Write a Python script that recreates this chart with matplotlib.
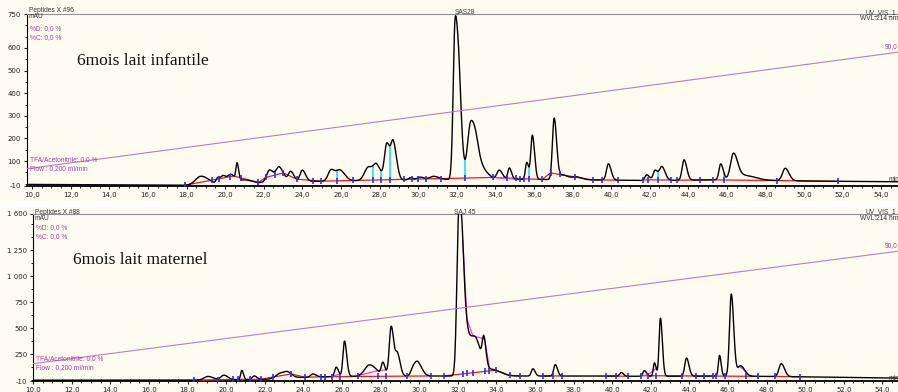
import numpy as np
import matplotlib
matplotlib.use("Agg")
import matplotlib.pyplot as plt
from matplotlib.ticker import FixedLocator, MultipleLocator, FuncFormatter
from matplotlib.patches import Rectangle

W, H = 898, 392

# ---------- top run : Peptides X #96, 6mois lait infantile ----------
top_base_t = [9.7, 18.0, 21.0, 24.0, 28.0, 31.0, 34.0, 38.0, 42.0, 46.0, 50.0, 56.0]
top_base_v = [-3, -7, 2, 10, 15, 18, 20, 18, 14, 18, 12, 8]
top_peak_t = [18.75, 19.62, 19.9, 20.3, 20.62, 21.0, 22.3, 22.8, 23.4, 24.0,
              25.49, 25.96, 27.43, 27.86, 28.38, 28.72, 29.6, 30.1, 30.8,
              31.92, 32.14, 32.73, 33.05, 33.45, 34.2, 34.73, 35.63, 35.92,
              37.05, 37.5, 38.2, 39.86, 41.85, 42.28, 42.63, 43.78, 45.68,
              46.34, 46.9, 49.02]
top_peak_h = [38, 25, 35, 40, 75, 15, 55, 65, 45, 50,
              50, 45, 60, 55, 160, 155, 10, 12, 15,
              690, 300, 250, 80, 30, 40, 50, 75, 195,
              270, 20, 12, 72, 25, 45, 60, 90, 70,
              110, 20, 55]
top_peak_w = [0.28, 0.08, 0.12, 0.15, 0.06, 0.25, 0.15, 0.16, 0.12, 0.12,
              0.15, 0.18, 0.2, 0.15, 0.12, 0.12, 0.1, 0.15, 0.2,
              0.1, 0.1, 0.17, 0.15, 0.18, 0.12, 0.08, 0.07, 0.08,
              0.09, 0.2, 0.2, 0.1, 0.1, 0.1, 0.12, 0.1, 0.09,
              0.15, 0.4, 0.14]
top_red = [[17.93, 20.45, 21.72, 22.1, 23.02, 23.71, 24.96, 33.9, 36.43, 36.86, 39.04, 40.38],
           [41.64, 43.09], [43.44, 44.61, 45.27, 51.78]]
top_pink = [[33.9, 35.28]]
top_marks = [17.93, 19.34, 19.66, 20.26, 20.81, 21.72, 22.1, 22.59, 23.02, 23.71,
             24.58, 24.96, 25.79, 26.65, 27.65, 28.08, 28.55, 29.27, 29.67, 29.98,
             30.41, 31.17, 32.43, 33.9, 34.59, 35.07, 35.28, 35.5, 35.76, 36.43,
             36.86, 37.35, 38.12, 39.04, 39.52, 40.38, 41.64, 41.93, 42.45, 43.09,
             43.44, 44.61, 45.27, 45.85, 48.62, 51.78]
top_drops = [19.66, 22.59, 25.79, 27.65, 28.08, 28.55, 32.43, 35.76, 42.45, 45.85]

# ---------- bottom run : Peptides X #88, 6mois lait maternel ----------
bot_base_t = [10.0, 18.0, 22.0, 24.0, 26.0, 30.0, 34.0, 38.0, 42.0, 46.0, 50.0, 56.0]
bot_base_v = [-2, -3, 5, 25, 35, 38, 38, 38, 35, 38, 30, 15]
bot_peak_t = [19.05, 19.88, 20.81, 21.45, 22.85, 23.2, 24.49, 25.7, 26.13, 27.43,
              28.12, 28.55, 28.88, 29.7, 29.95, 32.05, 32.25, 32.55, 33.0, 33.35,
              33.8, 35.89, 37.05, 40.47, 41.67, 42.19, 42.5, 43.85, 45.56, 46.17,
              46.65, 48.76]
bot_peak_h = [35, 45, 90, 35, 55, 30, 30, 90, 340, 110,
              120, 480, 200, 80, 110, 1500, 700, 350, 250, 250,
              60, 70, 110, 35, 55, 130, 560, 175, 200, 790,
              100, 125]
bot_peak_w = [0.2, 0.15, 0.06, 0.1, 0.25, 0.15, 0.12, 0.08, 0.08, 0.25,
              0.08, 0.1, 0.1, 0.12, 0.15, 0.1, 0.1, 0.2, 0.2, 0.08,
              0.3, 0.08, 0.08, 0.08, 0.08, 0.06, 0.07, 0.09, 0.06, 0.09,
              0.15, 0.12]
bot_red = [[18.33, 20.35, 21.78, 23.37, 24.09, 24.92, 30.61], [31.27, 33.96, 34.68, 35.2],
           [36.41, 37.41], [39.69, 40.21, 40.81], [41.5, 47.55], [48.41, 49.71]]
bot_pink = [[25.47, 25.92], [26.85, 27.85, 28.28], [32.26, 32.47, 32.78, 33.39, 33.64],
            [41.5, 41.85, 42.28], [44.35, 44.75], [46.6, 46.94]]
bot_marks = [18.33, 19.57, 20.35, 20.6, 21.21, 21.78, 22.42, 23.37, 24.09, 24.92,
             25.13, 25.47, 25.92, 26.85, 27.85, 28.28, 29.37, 30.61, 31.27, 32.26,
             32.47, 32.78, 33.39, 33.64, 33.96, 34.68, 35.2, 36.41, 36.93, 37.41,
             39.69, 40.21, 40.81, 41.5, 41.85, 42.28, 43.63, 44.35, 44.75, 45.22,
             45.39, 45.82, 46.94, 47.55, 48.41, 49.71]
bot_drops = [33.64, 45.82]

grad_t = [0, 60]
grad_b = [-4.6, 85.5]

CREAM = '#fffbf0'
PURPLE = '#a040a0'


def trace(t, bt, bv, pt, ph, pw):
    y = np.interp(t, bt, bv)
    for c, h, w in zip(pt, ph, pw):
        s = np.where(t < c, w, w * 1.4)
        y = y + h * np.exp(-0.5 * ((t - c) / s) ** 2)
    return y


def panel(rect, xlim, ylim, yticks, minor, data, runs):
    ax = fig.add_axes(rect)
    ax.set_facecolor(CREAM)
    ax.set_xlim(*xlim)
    ax.set_ylim(*ylim)
    bt, bv, pt, ph, pw = data
    t = np.linspace(xlim[0], xlim[1], 6000)
    f = lambda x: trace(np.atleast_1d(np.array(x, float)), bt, bv, pt, ph, pw)

    # gradient on a hidden twin axis
    ax2 = ax.twinx()
    ax2.set_ylim(0, 100)
    ax2.plot(grad_t, grad_b, color='#b87cc4', lw=0.8)
    ax2.axis('off')

    red, pink, marks, drops = runs
    for r in red:
        ax.plot(r, f(r), color='#ff1010', lw=0.9, zorder=3)
    for r in pink:
        ax.plot(r, f(r), color='#ff30ff', lw=0.9, zorder=3)

    def base_at(x):
        for r in red:
            if r[0] <= x <= r[-1]:
                return float(np.interp(x, r, f(r)))
        return float(f(x)[0])

    for d in drops:
        ax.plot([d, d], [base_at(d), f(d)[0]], color='#00e0f0', lw=1.1, zorder=3)
    ax.plot(t, f(t), color='black', lw=1.0, zorder=4)
    ax.plot(marks, [base_at(m) for m in marks], ls='none', marker='|',
            ms=4, mew=1.2, color='#2030ff', zorder=5)

    ax.spines['right'].set_visible(False)
    ax.spines['top'].set_color('#909090')
    ax.spines['top'].set_linewidth(0.8)
    ax.spines['left'].set_linewidth(0.8)
    ax.spines['bottom'].set_linewidth(1.3)
    ax.yaxis.set_major_locator(FixedLocator(yticks))
    ax.yaxis.set_minor_locator(MultipleLocator(minor))
    ax.xaxis.set_major_locator(MultipleLocator(2))
    ax.xaxis.set_minor_locator(MultipleLocator(0.5))
    ax.xaxis.set_major_formatter(FuncFormatter(lambda v, p: f"{v:.1f}".replace('.', ',')))
    ax.yaxis.set_major_formatter(FuncFormatter(lambda v, p: f"{int(v):,}".replace(',', ' ')))
    ax.tick_params(labelsize=5, length=2.5, width=0.8, pad=1.5, colors='#222222')
    ax.tick_params(which='minor', length=1.3, width=0.6)
    return ax


fig = plt.figure(figsize=(W / 100, H / 100), dpi=100, facecolor=CREAM)
fig.patches.append(Rectangle((0, 1 - 207 / H), 1, 6 / H, transform=fig.transFigure,
                             facecolor='white', edgecolor='none'))

sc = 19.3
x0 = 9.72
panel([26.7 / W, 1 - 186 / H, (56 - x0) * sc / W, 172 / H], (x0, 56), (-10, 750),
      [-10, 100, 200, 300, 400, 500, 600, 750], 50,
      (top_base_t, top_base_v, top_peak_t, top_peak_h, top_peak_w),
      (top_red, top_pink, top_marks, top_drops))
x1 = 9.99
panel([33 / W, 1 - 381 / H, (56 - x1) * sc / W, 167 / H], (x1, 56), (-10, 1600),
      [-10, 250, 500, 750, 1000, 1250, 1600], 125,
      (bot_base_t, bot_base_v, bot_peak_t, bot_peak_h, bot_peak_w),
      (bot_red, bot_pink, bot_marks, bot_drops))


def txt(x, y, s, **kw):
    kw.setdefault('fontsize', 4.8)
    kw.setdefault('family', 'Liberation Sans')
    fig.text(x / W, 1 - y / H, s, va='center', ha=kw.pop('ha', 'left'), **kw)


for dy, pep, name, samp in [(0, 'Peptides X #96', '6mois lait infantile', 'SAS28'),
                            (199, 'Peptides X #88', '6mois lait maternel', 'SAJ 45')]:
    lx = 29 if dy == 0 else 35
    txt(lx, 10 + dy + (3 if dy else 0), pep, color='#333333')
    txt(lx, 17 + dy + (3 if dy else 0), 'mAU', color='#333333')
    txt(lx + 1, 28 + dy + 1, '%D: 0,0 %', color=PURPLE)
    txt(lx + 1, 37 + dy + 1, '%C: 0,0 %', color=PURPLE)
    txt(lx + 1, 164 + dy - 4, 'TFA/Acetonitrile: 0,0 %', color=PURPLE)
    txt(lx + 1, 174 + dy - 5, 'Flow : 0,200 ml/min', color=PURPLE)
    txt(465, 10 + dy + 3, samp, color='#333333', ha='center')
    txt(866, 10 + dy + 3, 'UV_VIS_1', color='#333333')
    txt(860, 16 + dy + 3, 'WVL:214 nm', color='#333333')
    txt(885, 47 + dy, '90,0', color=PURPLE)
    txt(889, 183 + dy - 3, 'min', color='#333333')
    fig.text((77 if dy == 0 else 73) / W, 1 - (57 + dy + 4) / H, name,
             family='Liberation Serif', fontsize=12.5, color='#111111', va='center')

fig.savefig('out.png', dpi=100, facecolor=fig.get_facecolor())
